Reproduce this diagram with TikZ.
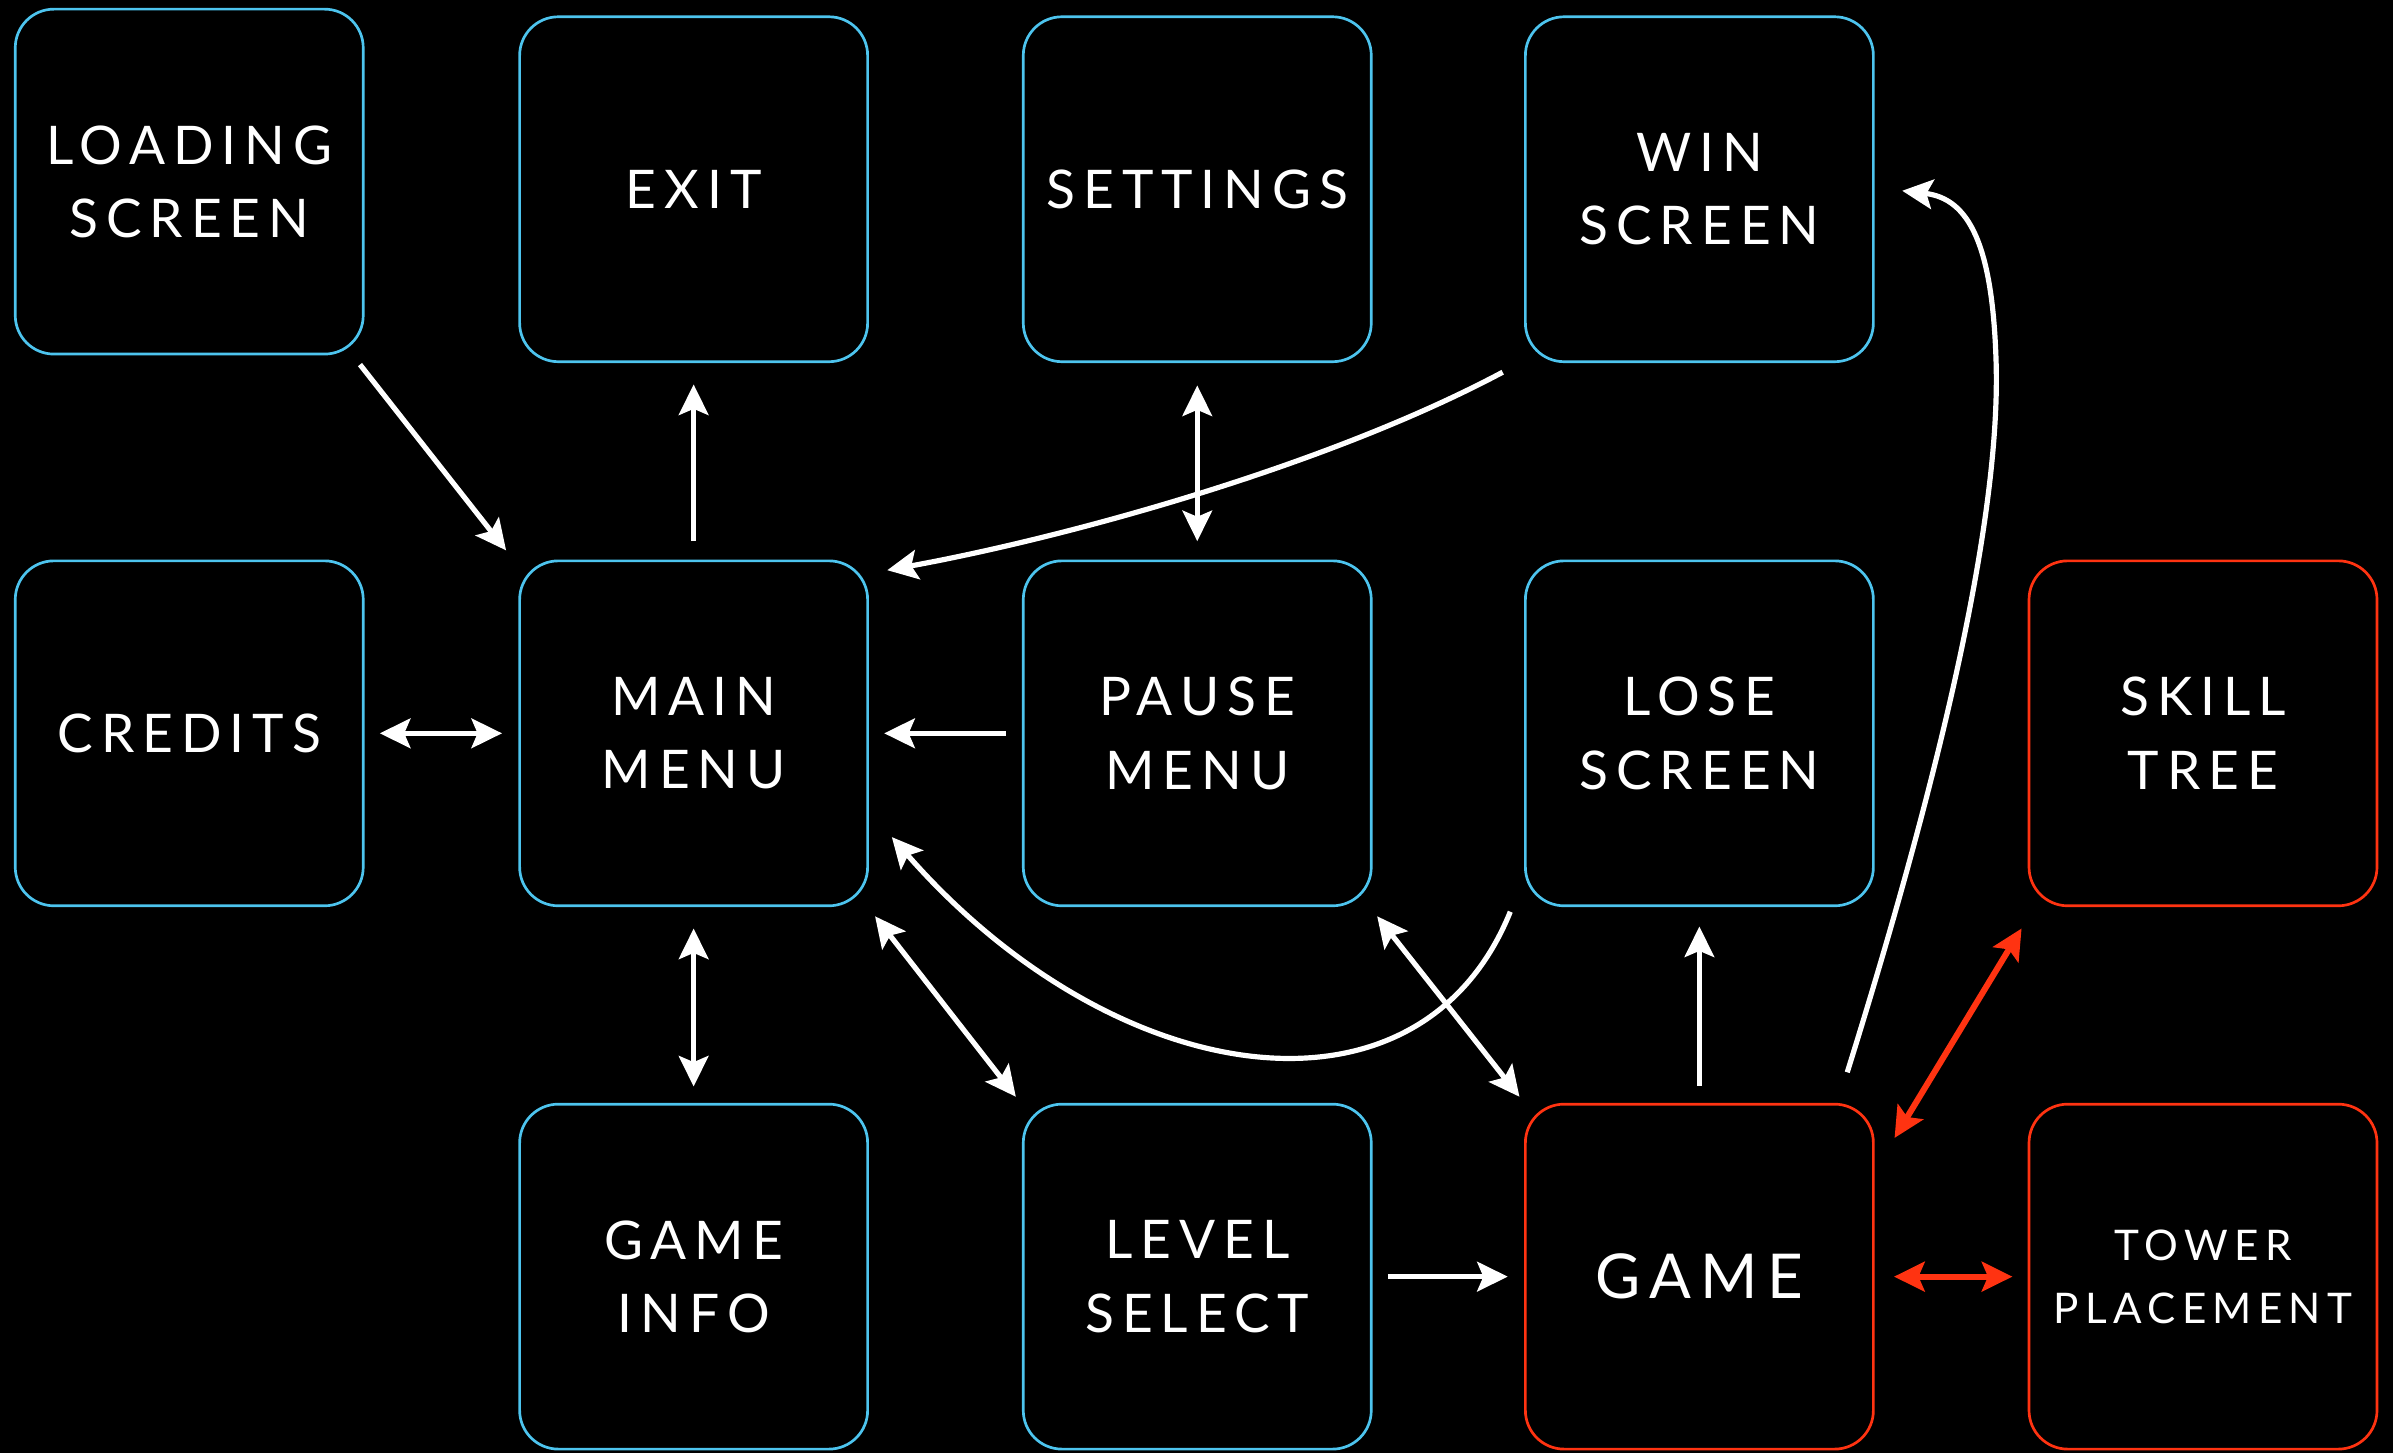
\documentclass[tikz,border=0pt]{standalone}
\usepackage{fontspec}
\setmainfont{Lato}[LetterSpace=15]
\usetikzlibrary{arrows.meta}

\definecolor{screenblue}{RGB}{77,196,238}
\definecolor{gamered}{RGB}{255,51,17}

\begin{document}
\begin{tikzpicture}[x=0.015cm,y=-0.015cm,
  screen/.style={draw=screenblue, line width=0.75pt, rounded corners=0.38cm,
    minimum width=3.42cm, minimum height=3.39cm, inner sep=0pt,
    align=center, text=white, font=\fontsize{14.9}{20.5}\selectfont},
  core/.style={screen, draw=gamered},
  tip/.tip={Stealth[length=0.3cm,width=0.29cm,inset=0.06cm]},
  link/.style={draw=white, line width=1.45pt, -tip},
  both/.style={draw=white, line width=1.45pt, tip-tip},
  hot/.style={both, draw=gamered, line width=1.7pt}]

% background
\fill[black] (0,0) rectangle (1568,952);

% screens
\node[screen] (loading)  at (124,119)    {LOADING\\SCREEN};
\node[screen] (exit)     at (454.5,124)  {EXIT};
\node[screen] (settings) at (784.5,124)  {SETTINGS};
\node[screen] (win)      at (1113.5,124) {WIN\\SCREEN};
\node[screen] (credits)  at (124,480.5)  {CREDITS};
\node[screen] (main)     at (454.5,480.5) {MAIN\\MENU};
\node[screen] (pause)    at (784.5,480.5) {PAUSE\\MENU};
\node[screen] (lose)     at (1113.5,480.5) {LOSE\\SCREEN};
\node[core]   (skill)    at (1443.5,480.5) {SKILL\\TREE};
\node[screen] (info)     at (454.5,836.5) {GAME\\INFO};
\node[screen] (level)    at (784.5,836.5) {LEVEL\\SELECT};
\node[core, font=\fontsize{17.3}{22}\selectfont] (game) at (1113.5,836.5) {GAME};
\node[core, font=\fontsize{11.8}{17.5}\selectfont] (tower) at (1443.5,836.5) {TOWER\\PLACEMENT};

% straight transitions
\draw[link] ([shift={(-3,6)}]loading.south east) -- ([shift={(-8,-6)}]main.north west);
\draw[link, shorten <=0.18cm, shorten >=0.21cm] (main.north) -- (exit.south);
\draw[both, shorten <=0.22cm, shorten >=0.18cm] (settings.south) -- (pause.north);
\draw[both, shorten <=0.15cm, shorten >=0.16cm] (credits.east) -- (main.west);
\draw[link, shorten <=0.16cm, shorten >=0.15cm] (pause.west) -- (main.east);
\draw[both, shorten <=0.21cm, shorten >=0.16cm] (main.south) -- (info.north);
\draw[both] ([shift={(4,6)}]main.south east) -- ([shift={(-4,-4)}]level.north west);
\draw[both] ([shift={(3,6)}]pause.south east) -- ([shift={(-3,-4)}]game.north west);
\draw[link, shorten <=0.15cm, shorten >=0.16cm] (level.east) -- (game.west);
\draw[link, shorten <=0.17cm, shorten >=0.19cm] (game.north) -- (lose.south);

% curved transitions
\draw[link] ([shift={(-14,6)}]win.south west)
  .. controls (870,305) and (700,352) .. ([shift={(12,7)}]main.north east);
\draw[link] ([shift={(-9,3)}]lose.south west)
  .. controls (930,745) and (730,715) .. ([shift={(15,68)}]main.east);
\draw[link] ([shift={(-18,-20)}]game.north east)
  .. controls (1280,480) and (1310,330) .. (1308,240)
  .. controls (1306,160) and (1290,130) .. ([shift={(18,1)}]win.east);

% gameplay sub-screens
\draw[hot] ([shift={(13,23)}]game.north east) -- ([shift={(-4,14)}]skill.south west);
\draw[hot, shorten <=0.19cm, shorten >=0.15cm] (game.east) -- (tower.west);
\end{tikzpicture}
\end{document}
